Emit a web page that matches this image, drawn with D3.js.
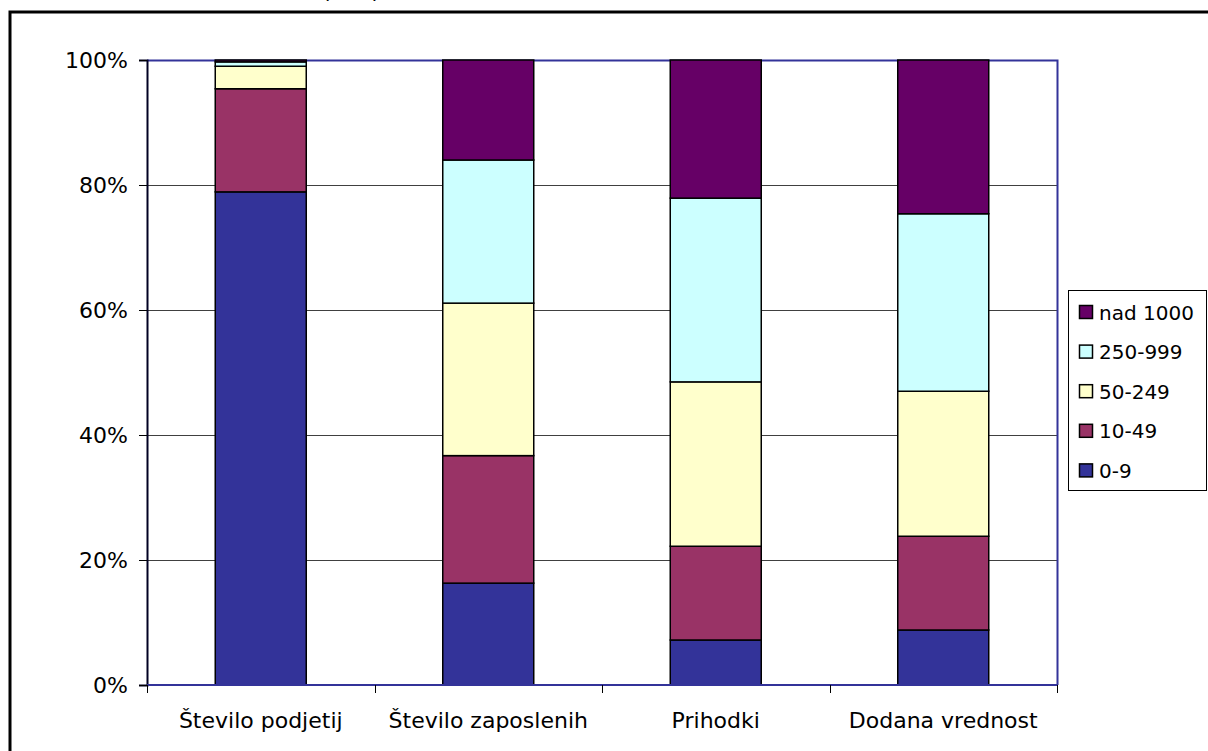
<!DOCTYPE html>
<html>
<head>
<meta charset="utf-8">
<script src="https://cdn.jsdelivr.net/npm/d3@7"></script>
<style>
  html, body { margin: 0; padding: 0; background: #fff; }
  svg { display: block; font-family: "DejaVu Sans", Verdana, sans-serif; }
</style>
</head>
<body>
<svg id="chart" width="1208" height="751"></svg>
<script>
// Categories along the x axis
const categories = ["Število podjetij", "Število zaposlenih", "Prihodki", "Dodana vrednost"];
// Size classes (number of employees), bottom to top of each stack
const sizeClasses = ["0-9", "10-49", "50-249", "250-999", "nad 1000"];
// Share of each size class per category, in %
const share0to9     = [78.9, 16.3, 7.2, 8.8];
const share10to49   = [16.5, 20.4, 15.0, 15.0];
const share50to249  = [3.6, 24.4, 26.3, 23.2];
const share250to999 = [0.7, 22.9, 29.4, 28.4];
const shareOver1000 = [0.3, 16.0, 22.1, 24.6];
const yTicks = [0, 20, 40, 60, 80, 100];

const seriesValues = [share0to9, share10to49, share50to249, share250to999, shareOver1000];
const colors = ["#333399", "#993366", "#FFFFCC", "#CCFFFF", "#660066"];

const rows = categories.map((c, i) => {
  const r = { category: c };
  sizeClasses.forEach((s, k) => { r[s] = seriesValues[k][i]; });
  return r;
});

const svg = d3.select("#chart");
const plot = { left: 147, right: 1057, top: 60, bottom: 685 };

// Outer chart frame and the title line above it
svg.append("text")
  .attr("x", 351).attr("y", -2)
  .attr("text-anchor", "middle")
  .attr("font-size", 22)
  .attr("fill", "#000")
  .text("(v %)");
svg.append("path")
  .attr("d", "M10,760 V12 H1220")
  .attr("fill", "none").attr("stroke", "#000").attr("stroke-width", 3);

const x = d3.scaleBand().domain(categories).range([plot.left, plot.right]).paddingInner(0.6).paddingOuter(0.3);
const y = d3.scaleLinear().domain([0, 100]).range([plot.bottom, plot.top]);

// Gridlines
svg.append("g").selectAll("line")
  .data(yTicks.filter(t => t > 0 && t < 100))
  .join("line")
  .attr("x1", plot.left).attr("x2", plot.right)
  .attr("y1", d => Math.round(y(d)) + 0.5).attr("y2", d => Math.round(y(d)) + 0.5)
  .attr("stroke", "#404040").attr("stroke-width", 1);

// Plot area border (top and right)
svg.append("path")
  .attr("d", `M${plot.left},${plot.top + 0.5} H${plot.right + 0.5} V${plot.bottom}`)
  .attr("fill", "none").attr("stroke", "#333399").attr("stroke-width", 2);

// Stacked bars
const stacked = d3.stack().keys(sizeClasses)(rows);
svg.append("g").selectAll("g")
  .data(stacked)
  .join("g")
  .attr("fill", (d, i) => colors[i])
  .selectAll("rect")
  .data(d => d)
  .join("rect")
  .attr("x", d => x(d.data.category))
  .attr("width", x.bandwidth())
  .attr("y", d => y(d[1]))
  .attr("height", d => y(d[0]) - y(d[1]))
  .attr("stroke", "#000").attr("stroke-width", 1.5);

// Y axis
const yAxis = d3.axisLeft(y).tickValues(yTicks).tickFormat(d => d + "%").tickSize(8).tickPadding(11);
const gy = svg.append("g").attr("transform", `translate(${plot.left},0)`).call(yAxis);
gy.select(".domain").attr("stroke", "#000022").attr("stroke-width", 2);
gy.selectAll(".tick line").attr("stroke", "#000").attr("stroke-width", 1);
gy.selectAll("text").attr("font-size", 22).attr("fill", "#000").attr("font-family", "DejaVu Sans, Verdana, sans-serif");

// X axis with ticks between categories
const gx = svg.append("g").attr("transform", `translate(0,${plot.bottom})`);
gx.append("line")
  .attr("x1", plot.left).attr("x2", plot.right)
  .attr("stroke", "#333399").attr("stroke-width", 2);
const step = (plot.right - plot.left) / categories.length;
gx.selectAll("line.tick")
  .data(d3.range(categories.length + 1))
  .join("line").attr("class", "tick")
  .attr("x1", i => Math.round(plot.left + i * step) + 0.5)
  .attr("x2", i => Math.round(plot.left + i * step) + 0.5)
  .attr("y1", 0).attr("y2", 8)
  .attr("stroke", "#000").attr("stroke-width", 1);
gx.selectAll("text")
  .data(categories)
  .join("text")
  .attr("x", d => x(d) + x.bandwidth() / 2)
  .attr("y", 43)
  .attr("text-anchor", "middle")
  .attr("font-size", 22)
  .attr("fill", "#000")
  .text(d => d);

// Legend
const legend = svg.append("g");
legend.append("rect")
  .attr("x", 1068.5).attr("y", 290.5).attr("width", 138).attr("height", 200)
  .attr("fill", "#fff").attr("stroke", "#000").attr("stroke-width", 1);
const legendItems = sizeClasses.map((s, i) => ({ name: s, color: colors[i] })).reverse();
const li = legend.selectAll("g.item")
  .data(legendItems)
  .join("g").attr("class", "item")
  .attr("transform", (d, i) => `translate(1079,${312 + i * 39.6})`);
li.append("rect")
  .attr("x", 0.5).attr("y", -6.5).attr("width", 13).attr("height", 13)
  .attr("fill", d => d.color).attr("stroke", "#000").attr("stroke-width", 1.5);
li.append("text")
  .attr("x", 20).attr("y", 7.5)
  .attr("font-size", 20)
  .attr("fill", "#000")
  .text(d => d.name);
</script>
</body>
</html>
